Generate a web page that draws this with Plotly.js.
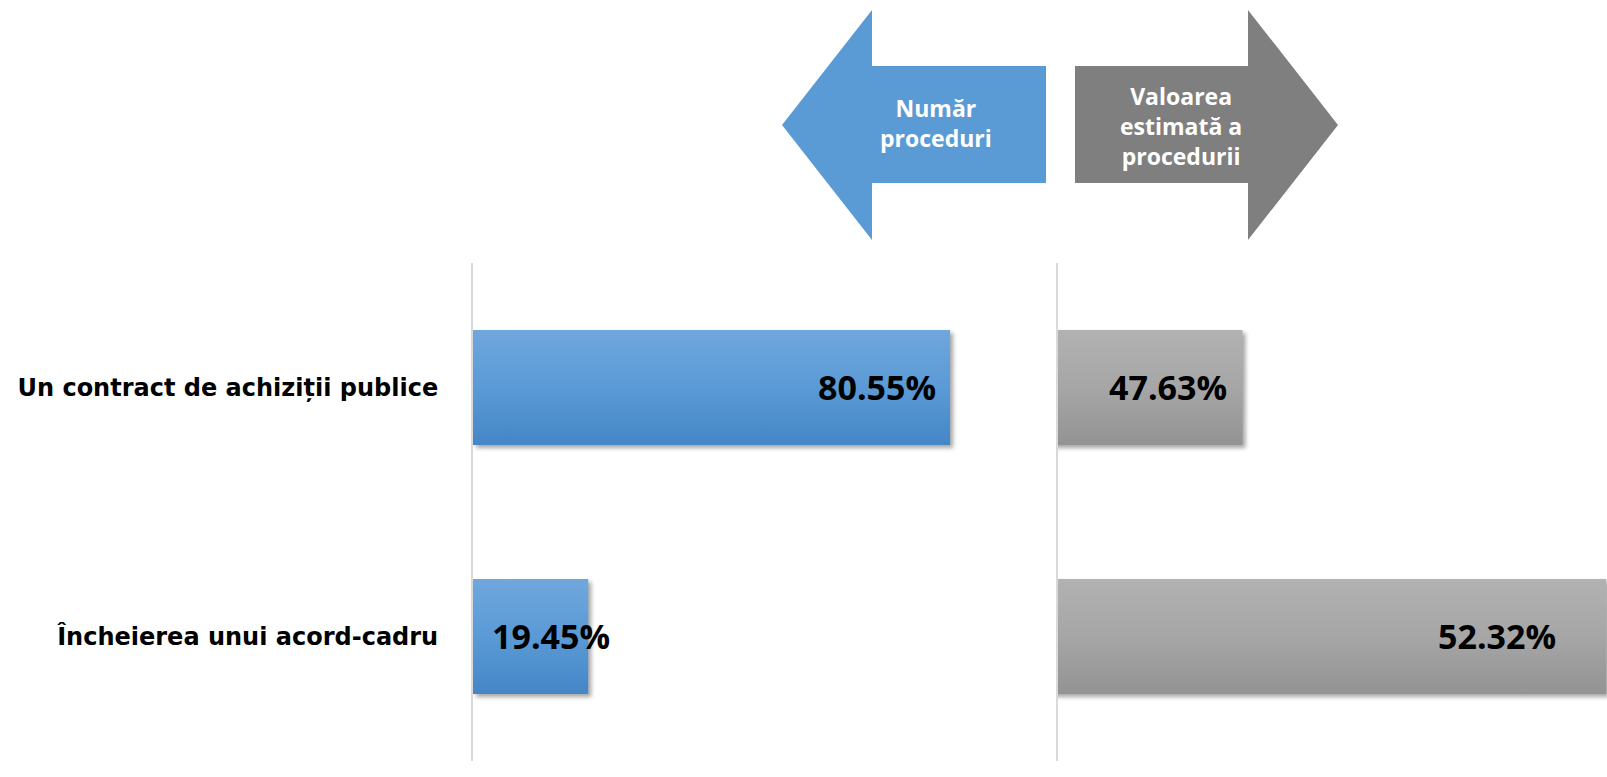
<!DOCTYPE html>
<html>
<head>
<meta charset="utf-8">
<script src="https://cdn.plot.ly/plotly-3.0.1.min.js"></script>
<style>
html,body{margin:0;padding:0;background:#fff;}
#chart{width:1607px;height:777px;}
</style>
</head>
<body>
<div id="chart"></div>
<script>
// ---- data ----
const categories = ['Un contract de achiziții publice', 'Încheierea unui acord-cadru'];
const numarProceduri = [80.55, 19.45];
const valoareEstimata = [47.63, 52.32];
const labelsNumar = numarProceduri.map(v => v.toFixed(2) + '%');
const labelsValoare = valoareEstimata.map(v => v.toFixed(2) + '%');
const arrowLeftText = 'Număr<br>proceduri';
const arrowRightText = 'Valoarea<br>estimată a<br>procedurii';

// ---- layout geometry ----
const W = 1607, H = 777;
const M = {l: 473, r: 0, t: 263, b: 16};
const PW = W - M.l - M.r, PH = H - M.t - M.b;
const px = x => (x - M.l) / PW;           // pixel -> paper x
const py = y => (H - M.b - y) / PH;       // pixel -> paper y

function pathFrom(points) {
  return 'M ' + points.map(p => px(p[0]).toFixed(5) + ',' + py(p[1]).toFixed(5)).join(' L ') + ' Z';
}
const leftArrow = pathFrom([[782,125],[872,10],[872,66],[1046,66],[1046,183],[872,183],[872,240]]);
const rightArrow = pathFrom([[1338,125],[1248,10],[1248,66],[1075,66],[1075,183],[1248,183],[1248,240]]);

const barFont = {family: 'Open Sans, sans-serif', size: 34, color: '#000', weight: 700};
// label offsets (pixels) from bar ends
const shiftNumar = [-12, 24];
const shiftValoare = [-14, -48];

const traces = [
  {type: 'bar', orientation: 'h', y: categories, x: numarProceduri,
   xaxis: 'x', yaxis: 'y', width: 0.462, marker: {color: '#5b9bd5'}, hoverinfo: 'none'},
  {type: 'bar', orientation: 'h', y: categories, x: valoareEstimata,
   xaxis: 'x2', yaxis: 'y2', width: 0.462, marker: {color: '#a5a5a5'}, hoverinfo: 'none'}
];

const annotations = [];
numarProceduri.forEach((v, i) => {
  annotations.push({xref: 'x', yref: 'y', x: v, y: categories[i], text: labelsNumar[i],
    showarrow: false, xanchor: 'right', yanchor: 'middle', xshift: shiftNumar[i], yshift: 1, font: barFont});
});
valoareEstimata.forEach((v, i) => {
  annotations.push({xref: 'x2', yref: 'y2', x: v, y: categories[i], text: labelsValoare[i],
    showarrow: false, xanchor: 'right', yanchor: 'middle', xshift: shiftValoare[i], yshift: 1, font: barFont});
});
const arrowFont = {family: 'Open Sans, sans-serif', size: 23, color: '#fff', weight: 700};
annotations.push({xref: 'paper', yref: 'paper', x: px(936), y: py(123), text: arrowLeftText,
  showarrow: false, xanchor: 'center', yanchor: 'middle', font: arrowFont, align: 'center'});
annotations.push({xref: 'paper', yref: 'paper', x: px(1181), y: py(126), text: arrowRightText,
  showarrow: false, xanchor: 'center', yanchor: 'middle', font: arrowFont, align: 'center'});

const layout = {
  width: W, height: H, margin: M,
  paper_bgcolor: '#fff', plot_bgcolor: 'rgba(0,0,0,0)',
  showlegend: false,
  xaxis: {domain: [0, 581 / PW], range: [0, 98.1], showgrid: false, zeroline: false,
          showticklabels: false, showline: false, fixedrange: true},
  xaxis2: {domain: [585 / PW, 1], range: [45.25, 52.33], showgrid: false, zeroline: false,
           showticklabels: false, showline: false, fixedrange: true},
  yaxis: {type: 'category', autorange: 'reversed', anchor: 'x', showgrid: false, zeroline: false,
          showline: true, linecolor: '#d9d9d9', linewidth: 2, ticks: '', ticklabelstandoff: 28,
          tickfont: {family: 'DejaVu Sans, sans-serif', size: 24, color: '#000', weight: 700}},
  yaxis2: {type: 'category', matches: 'y', anchor: 'x2', showgrid: false, zeroline: false,
           showline: true, linecolor: '#d9d9d9', linewidth: 2, ticks: '', showticklabels: false},
  shapes: [
    {type: 'path', xref: 'paper', yref: 'paper', path: leftArrow, fillcolor: '#5b9bd5', line: {width: 0}},
    {type: 'path', xref: 'paper', yref: 'paper', path: rightArrow, fillcolor: '#7f7f7f', line: {width: 0}}
  ],
  annotations: annotations
};

Plotly.newPlot('chart', traces, layout, {displayModeBar: false, staticPlot: true}).then(gd => {
  const svg = gd.querySelector('svg.main-svg');
  const ns = 'http://www.w3.org/2000/svg';
  let defs = svg.querySelector('defs');
  if (!defs) { defs = document.createElementNS(ns, 'defs'); svg.insertBefore(defs, svg.firstChild); }
  function grad(id, stops) {
    const g = document.createElementNS(ns, 'linearGradient');
    g.setAttribute('id', id); g.setAttribute('x1', '0'); g.setAttribute('y1', '0');
    g.setAttribute('x2', '0'); g.setAttribute('y2', '1');
    stops.forEach(s => {
      const st = document.createElementNS(ns, 'stop');
      st.setAttribute('offset', s[0]); st.setAttribute('stop-color', s[1]);
      g.appendChild(st);
    });
    defs.appendChild(g);
  }
  grad('gBlue', [['0', '#70a7dd'], ['0.5', '#5a9ad6'], ['1', '#4486c6']]);
  grad('gGray', [['0', '#b2b2b2'], ['0.5', '#a6a6a6'], ['1', '#939393']]);
  const traceGroups = svg.querySelectorAll('.barlayer .trace');
  traceGroups.forEach((tg, i) => {
    tg.querySelectorAll('path').forEach(p => {
      p.style.fill = i === 0 ? 'url(#gBlue)' : 'url(#gGray)';
      p.style.filter = 'drop-shadow(3px 3px 2px rgba(0,0,0,0.35))';
    });
  });
});
</script>
</body>
</html>
